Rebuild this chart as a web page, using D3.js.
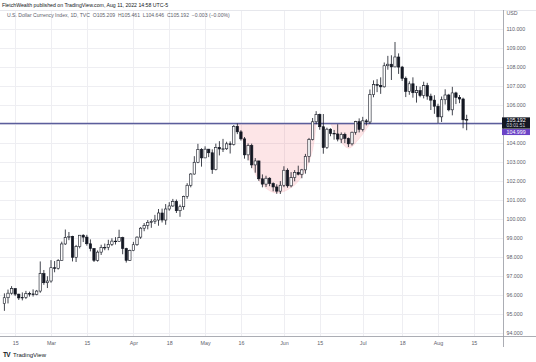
<!DOCTYPE html>
<html><head><meta charset="utf-8">
<script src="https://cdn.jsdelivr.net/npm/d3@7"></script>
<style>html,body{margin:0;padding:0;background:#fff;}svg{display:block;font-family:"Liberation Sans",Arial,sans-serif;}</style>
</head><body><svg id="c" width="536" height="362"></svg>
<script>
const dates = ["2022-02-10","2022-02-11","2022-02-14","2022-02-15","2022-02-16","2022-02-17","2022-02-18","2022-02-21","2022-02-22","2022-02-23","2022-02-24","2022-02-25","2022-02-28",
"2022-03-01","2022-03-02","2022-03-03","2022-03-04","2022-03-07","2022-03-08","2022-03-09","2022-03-10","2022-03-11","2022-03-14","2022-03-15","2022-03-16","2022-03-17","2022-03-18","2022-03-21","2022-03-22","2022-03-23","2022-03-24","2022-03-25","2022-03-28","2022-03-29","2022-03-30","2022-03-31",
"2022-04-01","2022-04-04","2022-04-05","2022-04-06","2022-04-07","2022-04-08","2022-04-11","2022-04-12","2022-04-13","2022-04-14","2022-04-18","2022-04-19","2022-04-20","2022-04-21","2022-04-22","2022-04-25","2022-04-26","2022-04-27","2022-04-28","2022-04-29",
"2022-05-02","2022-05-03","2022-05-04","2022-05-05","2022-05-06","2022-05-09","2022-05-10","2022-05-11","2022-05-12","2022-05-13","2022-05-16","2022-05-17","2022-05-18","2022-05-19","2022-05-20","2022-05-23","2022-05-24","2022-05-25","2022-05-26","2022-05-27","2022-05-30","2022-05-31",
"2022-06-01","2022-06-02","2022-06-03","2022-06-06","2022-06-07","2022-06-08","2022-06-09","2022-06-10","2022-06-13","2022-06-14","2022-06-15","2022-06-16","2022-06-17","2022-06-20","2022-06-21","2022-06-22","2022-06-23","2022-06-24","2022-06-27","2022-06-28","2022-06-29","2022-06-30",
"2022-07-01","2022-07-04","2022-07-05","2022-07-06","2022-07-07","2022-07-08","2022-07-11","2022-07-12","2022-07-13","2022-07-14","2022-07-15","2022-07-18","2022-07-19","2022-07-20","2022-07-21","2022-07-22","2022-07-25","2022-07-26","2022-07-27","2022-07-28","2022-07-29",
"2022-08-01","2022-08-02","2022-08-03","2022-08-04","2022-08-05","2022-08-08","2022-08-09","2022-08-10","2022-08-11"];
const open = [95.52,95.83,96.07,96.31,96.02,95.82,95.85,96.05,96.03,96.00,96.18,97.10,96.62,
96.71,97.41,97.38,97.78,98.66,99.00,99.06,97.96,98.52,99.12,99.02,98.67,98.42,97.80,98.23,98.48,98.48,98.64,98.81,98.80,98.99,98.42,97.80,
98.31,98.62,99.02,99.49,99.63,99.80,99.84,99.92,100.29,99.92,100.50,100.66,100.90,100.41,100.62,101.16,101.75,102.34,102.96,103.63,
103.19,103.65,103.46,102.57,103.74,103.66,103.67,103.93,103.89,104.85,104.56,104.19,103.35,103.84,102.82,103.03,102.09,101.81,102.12,101.84,101.66,101.44,
101.75,102.54,101.72,102.15,102.43,102.33,102.56,103.27,104.16,105.09,105.48,104.83,103.73,104.70,104.48,104.45,104.18,104.43,104.21,103.93,104.54,105.10,
104.69,105.14,105.08,106.52,107.05,107.01,106.93,108.04,108.12,107.98,108.50,107.97,107.38,106.69,107.09,106.62,106.73,106.47,106.99,106.44,106.23,
105.91,105.35,106.25,106.50,105.72,106.61,106.37,106.29,105.209];
const high = [96.06,96.26,96.44,96.33,96.04,96.11,96.19,96.15,96.27,96.24,97.74,97.29,96.96,
97.81,97.76,97.86,98.78,99.42,99.29,99.09,98.61,99.13,99.17,99.14,98.90,98.44,98.32,98.62,98.68,98.88,98.96,99.02,99.41,99.04,98.46,98.36,
98.77,99.06,99.55,99.76,99.92,99.96,100.19,100.50,100.52,100.76,100.86,101.03,101.00,100.73,101.20,101.86,102.39,103.28,103.93,103.70,
103.80,103.66,103.64,103.94,104.07,104.19,104.04,104.06,104.92,105.00,104.65,104.29,103.95,103.94,103.18,103.04,102.32,102.25,102.17,101.90,101.80,101.97,
102.75,102.64,102.44,102.55,102.78,102.61,103.40,104.24,105.29,105.65,105.52,105.50,104.78,104.75,104.66,104.96,104.53,104.52,104.26,104.57,105.14,105.27,
105.35,105.24,106.79,107.27,107.33,107.43,108.21,108.56,108.59,109.29,108.69,108.03,107.47,107.22,107.43,106.98,106.94,107.20,107.14,106.57,106.49,
106.04,106.42,106.80,106.56,106.93,106.67,106.50,106.36,105.461];
const low = [95.14,95.53,95.99,95.92,95.71,95.69,95.76,95.89,95.89,95.96,96.09,96.51,96.34,
96.62,97.17,97.31,97.77,98.61,98.86,97.74,97.71,98.43,98.76,98.57,98.27,97.71,97.73,98.08,98.33,98.33,98.55,98.63,98.79,98.12,97.68,97.77,
98.28,98.56,98.93,99.33,99.43,99.51,99.71,99.62,99.79,99.67,100.41,100.61,100.29,100.09,100.46,101.04,101.64,102.31,102.91,102.73,
103.18,103.23,102.35,102.53,103.32,103.50,103.61,103.42,103.84,104.44,104.10,103.15,103.06,102.65,102.41,101.98,101.64,101.66,101.70,101.43,101.30,101.29,
101.65,101.62,101.64,101.96,102.27,102.12,102.36,102.95,104.11,104.96,104.67,103.41,103.66,104.33,104.15,104.06,103.97,103.97,103.76,103.84,104.41,104.53,
104.58,104.90,104.98,106.38,106.65,106.56,106.89,107.83,107.29,107.96,107.61,107.24,106.39,106.51,106.36,106.10,106.38,106.32,106.25,105.71,105.51,
105.03,105.08,106.00,105.64,105.43,106.02,106.07,104.75,104.646];
const close = [95.83,96.07,96.31,96.02,95.82,95.85,96.05,96.03,96.00,96.18,97.10,96.62,96.71,
97.41,97.38,97.78,98.66,99.00,99.06,97.96,98.52,99.12,99.02,98.67,98.42,97.80,98.23,98.48,98.48,98.64,98.81,98.80,98.99,98.42,97.80,98.31,
98.62,99.02,99.49,99.63,99.80,99.84,99.92,100.29,99.92,100.50,100.66,100.90,100.41,100.62,101.16,101.75,102.34,102.96,103.63,103.19,
103.65,103.46,102.57,103.74,103.66,103.67,103.93,103.89,104.85,104.56,104.19,103.35,103.84,102.82,103.03,102.09,101.81,102.12,101.84,101.66,101.44,101.75,
102.54,101.72,102.15,102.43,102.33,102.56,103.27,104.16,105.09,105.48,104.83,103.73,104.70,104.48,104.45,104.18,104.43,104.21,103.93,104.54,105.10,104.69,
105.14,105.08,106.52,107.05,107.01,106.93,108.04,108.12,107.98,108.50,107.97,107.38,106.69,107.09,106.62,106.73,106.47,106.99,106.44,106.23,105.91,
105.35,106.25,106.50,105.72,106.61,106.37,106.29,105.195,105.192];

const priceTicks = [94,95,96,97,98,99,100,101,102,103,104,105,106,107,108,109,110];
const timeTickDates = ["2022-02-15","2022-03-01","2022-03-15","2022-04-01","2022-04-18","2022-05-02","2022-05-16","2022-06-01","2022-06-15","2022-07-01","2022-07-18","2022-08-01","2022-08-15"];
const timeTickLabels = ["15","Mar","15","Apr","18","May","16","Jun","15","Jul","18","Aug","15"];
const futureBars = ["2022-08-12","2022-08-15","2022-08-16","2022-08-17","2022-08-18","2022-08-19","2022-08-22","2022-08-23","2022-08-24","2022-08-25"];
const levelPrice = 104.999;
const lastPrice = 105.192;
const countdown = "03:01:51";
const cupDates = ["2022-05-13","2022-05-19","2022-05-24","2022-05-30","2022-06-06","2022-06-09","2022-06-13","2022-06-14"];
const cupPrices = [104.999,102.8,101.76,101.34,101.76,102.55,103.6,104.999];
const handleDates = ["2022-06-20","2022-06-22","2022-06-27","2022-06-30","2022-07-05"];
const handlePrices = [104.999,104.3,103.7,104.2,104.999];
const headerTitle = "FletchWealth published on TradingView.com, Aug 11, 2022 14:58 UTC-5";
const legendText = "U.S. Dollar Currency Index, 1D, TVC  O105.209  H105.461  L104.646  C105.192  \u22120.003 (\u22120.00%)";

const W = 536, H = 362;
const paneRight = 503, paneTop = 10, paneBottom = 336;
const allDates = dates.concat(futureBars);
const idx = new Map(allDates.map((d,i)=>[d,i]));

const x = d3.scaleLinear().domain([0, 139]).range([4.42, 502.5]);
const y = d3.scaleLinear().domain([94, 110]).range([332.5, 28.5]);

const svg = d3.select("#c");
svg.append("rect").attr("width",W).attr("height",H).attr("fill","#fff");

// grid
const grid = svg.append("g");
grid.selectAll("line.h").data(priceTicks).join("line")
  .attr("x1",0).attr("x2",paneRight).attr("y1",d=>Math.round(y(d))+0.5).attr("y2",d=>Math.round(y(d))+0.5)
  .attr("stroke","#eeeef2").attr("stroke-width",1);
grid.selectAll("line.v").data(timeTickDates).join("line")
  .attr("x1",d=>Math.round(x(idx.get(d)))+0.5).attr("x2",d=>Math.round(x(idx.get(d)))+0.5)
  .attr("y1",paneTop).attr("y2",paneBottom)
  .attr("stroke","#eeeef2").attr("stroke-width",1);

// top frame line
svg.append("line").attr("x1",0).attr("x2",W).attr("y1",paneTop+0.5).attr("y2",paneTop+0.5).attr("stroke","#e6e7ec");

// cup & handle shapes
const area = d3.line().x(d=>x(idx.get(d[0]))).y(d=>y(d[1])).curve(d3.curveCatmullRom.alpha(0.5));
function shape(ds, ps){ return area(ds.map((d,i)=>[d,ps[i]])) + "Z"; }
svg.append("path").attr("d", shape(cupDates,cupPrices)).attr("fill","rgba(242,54,69,0.13)").attr("stroke","rgba(242,54,69,0.15)").attr("stroke-width",0.6);
svg.append("path").attr("d", shape(handleDates,handlePrices)).attr("fill","rgba(242,54,69,0.13)").attr("stroke","rgba(242,54,69,0.15)").attr("stroke-width",0.6);

// horizontal level line
svg.append("line").attr("x1",0).attr("x2",paneRight).attr("y1",y(levelPrice)).attr("y2",y(levelPrice))
  .attr("stroke","#5b5e9c").attr("stroke-width",1.4);

// candles
const data = dates.map((d,i)=>({d,i,o:open[i],h:high[i],l:low[i],c:close[i]}));
const bw = 2.4;
const cg = svg.append("g");
cg.selectAll("line.w").data(data).join("line")
  .attr("x1",d=>x(d.i)).attr("x2",d=>x(d.i)).attr("y1",d=>y(d.h)).attr("y2",d=>y(d.l))
  .attr("stroke","#131722").attr("stroke-width",0.8);
cg.selectAll("rect").data(data).join("rect")
  .attr("x",d=>x(d.i)-bw/2).attr("width",bw)
  .attr("y",d=>y(Math.max(d.o,d.c)))
  .attr("height",d=>Math.max(0.6, Math.abs(y(d.o)-y(d.c))))
  .attr("fill",d=>d.c>=d.o?"#ffffff":"#131722")
  .attr("stroke","#131722").attr("stroke-width",0.6);

// right axis
const ya = svg.append("g").attr("transform",`translate(${paneRight},0)`)
  .call(d3.axisRight(y).tickValues(priceTicks.filter(p=>p!==105)).tickFormat(d3.format(".3f")).tickSize(0).tickPadding(3.5));
ya.select(".domain").remove();
ya.selectAll("text").attr("font-size","5.3px").attr("fill","#5d606b").attr("font-family","Liberation Sans, Arial, sans-serif");
svg.append("line").attr("x1",paneRight+0.5).attr("x2",paneRight+0.5).attr("y1",paneTop).attr("y2",347).attr("stroke","#9598a1").attr("stroke-width",0.8);
svg.append("text").attr("x",paneRight+3.5).attr("y",15).text("USD").attr("font-size","5.3px").attr("fill","#5d606b");

// bottom axis
const xa = svg.append("g").attr("transform",`translate(0,${paneBottom})`)
  .call(d3.axisBottom(x).tickValues(timeTickDates.map(d=>idx.get(d))).tickFormat((d,i)=>timeTickLabels[i]).tickSize(0).tickPadding(5));
xa.select(".domain").remove();
xa.selectAll("text").attr("font-size","5.3px").attr("fill","#5d606b").attr("font-family","Liberation Sans, Arial, sans-serif");
svg.append("line").attr("x1",0).attr("x2",W).attr("y1",paneBottom+0.5).attr("y2",paneBottom+0.5).attr("stroke","#9598a1").attr("stroke-width",0.8);

// price labels
const lab = svg.append("g");
lab.append("rect").attr("x",paneRight-1).attr("y",y(lastPrice)-2.5).attr("width",28).attr("height",11.3).attr("fill","#131722");
lab.append("text").attr("x",paneRight+3.5).attr("y",y(lastPrice)+2.6).text(d3.format(".3f")(lastPrice)).attr("font-size","5.3px").attr("fill","#fff");
lab.append("text").attr("x",paneRight+3.5).attr("y",y(lastPrice)+7.6).text(countdown).attr("font-size","4.8px").attr("fill","#d1d4dc");
lab.append("rect").attr("x",paneRight-1).attr("y",y(lastPrice)+9.2).attr("width",28).attr("height",6).attr("fill","#6b43c6");
lab.append("text").attr("x",paneRight+3.5).attr("y",y(lastPrice)+14.1).text(d3.format(".3f")(levelPrice)).attr("font-size","5.3px").attr("fill","#fff");

// header
svg.append("text").attr("x",2).attr("y",7).text(headerTitle).attr("font-size","5.2px").attr("fill","#131722");
svg.append("text").attr("x",7).attr("y",17).text(legendText).attr("font-size","5.1px").attr("fill","#5d606b").attr("xml:space","preserve").style("white-space","pre");

// TradingView logo
const logo = svg.append("g").attr("transform","translate(3,351)");
logo.append("text").attr("x",0).attr("y",6).text("TV").attr("font-size","6.5px").attr("font-weight","bold").attr("fill","#131722").attr("letter-spacing","-0.6px");
logo.append("text").attr("x",10).attr("y",6).text("TradingView").attr("font-size","6px").attr("fill","#131722");
</script>
</body></html>
